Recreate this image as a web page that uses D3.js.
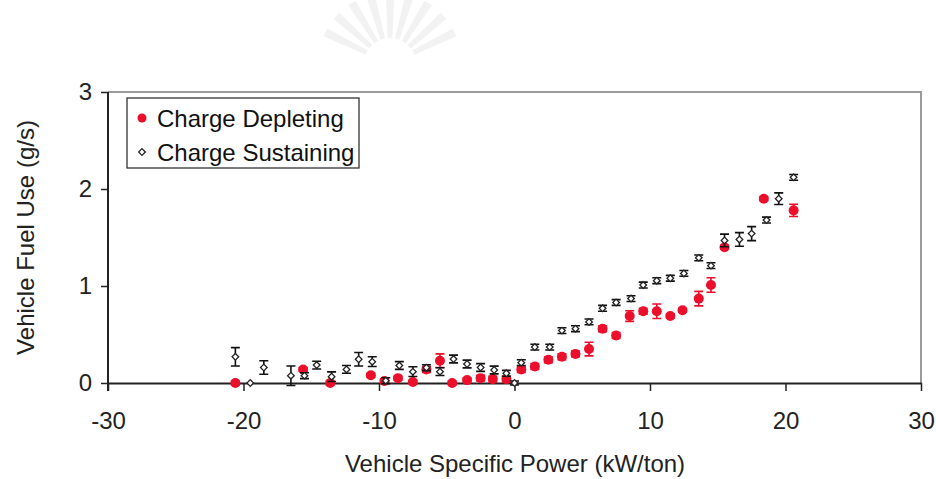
<!DOCTYPE html>
<html>
<head>
<meta charset="utf-8">
<script src="https://cdn.jsdelivr.net/npm/d3@7"></script>
<style>
  html, body { margin: 0; padding: 0; background: #fff; }
  svg { display: block; font-family: "Liberation Sans", Arial, sans-serif; }
</style>
</head>
<body>
<svg id="chart" width="936" height="479"></svg>
<script>
// Charge Depleting: VSP bin centre, mean fuel rate, error half-width
const cdX = [-20.6, -15.6, -13.6, -10.6, -9.6, -8.6, -7.5, -6.5, -5.5, -4.6, -3.5, -2.5, -1.6, -0.6,
             0.5, 1.5, 2.5, 3.5, 4.5, 5.5, 6.5, 7.5, 8.5, 9.5, 10.5, 11.5, 12.4, 13.6, 14.5, 15.5, 18.4, 20.6];
const cdY = [0, 0.14, 0, 0.08, 0.02, 0.05, 0.01, 0.14, 0.23, 0, 0.03, 0.05, 0.04, 0.04,
             0.14, 0.17, 0.24, 0.27, 0.30, 0.35, 0.56, 0.49, 0.69, 0.74, 0.74, 0.69, 0.75, 0.87, 1.01, 1.40, 1.90, 1.78];
const cdErr = [0.02, 0.02, 0.02, 0.02, 0.02, 0.02, 0.02, 0.03, 0.07, 0.02, 0.02, 0.03, 0.03, 0.03,
               0.03, 0.03, 0.03, 0.03, 0.03, 0.07, 0.03, 0.03, 0.055, 0.03, 0.075, 0.02, 0.02, 0.075, 0.075, 0.02, 0.02, 0.063];

// Charge Sustaining
const csX = [-20.6, -19.5, -18.5, -16.5, -15.5, -14.6, -13.5, -12.4, -11.5, -10.5, -9.5, -8.5, -7.5, -6.5,
             -5.5, -4.5, -3.5, -2.5, -1.5, -0.6, 0, 0.5, 1.5, 2.6, 3.5, 4.5, 5.5, 6.5, 7.5, 8.6, 9.5,
             10.5, 11.5, 12.5, 13.6, 14.5, 15.5, 16.6, 17.5, 18.6, 19.5, 20.6];
const csY = [0.27, 0, 0.16, 0.075, 0.075, 0.185, 0.065, 0.14, 0.245, 0.22, 0.024, 0.18, 0.117, 0.158,
             0.117, 0.247, 0.196, 0.16, 0.134, 0.10, 0, 0.21, 0.37, 0.37, 0.54, 0.56, 0.63, 0.77, 0.83, 0.87, 1.01,
             1.055, 1.08, 1.13, 1.29, 1.21, 1.47, 1.48, 1.54, 1.68, 1.90, 2.12];
const csErr = [0.095, 0, 0.07, 0.1, 0.03, 0.04, 0.05, 0.04, 0.07, 0.05, 0.03, 0.04, 0.05, 0.03,
               0.04, 0.04, 0.04, 0.04, 0.04, 0.03, 0.02, 0.03, 0.03, 0.03, 0.03, 0.03, 0.03, 0.03, 0.03, 0.03, 0.03,
               0.03, 0.03, 0.03, 0.03, 0.03, 0.065, 0.07, 0.072, 0.03, 0.06, 0.03];

const xTicks = [-30, -20, -10, 0, 10, 20, 30];
const yTicks = [0, 1, 2, 3];
const seriesNames = ["Charge Depleting", "Charge Sustaining"];

const FS = 24;
const RED = "#ec0f2b";
const svg = d3.select("#chart");
const x = d3.scaleLinear().domain([-30, 30]).range([108, 921]);
const y = d3.scaleLinear().domain([0, 3]).range([383, 92]);

// faint crest in the page header
const crest = svg.append("g").attr("fill", "#f2f2f2");
d3.range(-64, 65, 16).forEach(a => {
  const r = Math.PI / 180 * (a - 90), cx = 390, cy = 64;
  const r1 = 26, r2 = 72, w = 0.09;
  const p = [[cx + r1 * Math.cos(r - w), cy + r1 * Math.sin(r - w)],
             [cx + r2 * Math.cos(r - w / 1.5), cy + r2 * Math.sin(r - w / 1.5)],
             [cx + r2 * Math.cos(r + w / 1.5), cy + r2 * Math.sin(r + w / 1.5)],
             [cx + r1 * Math.cos(r + w), cy + r1 * Math.sin(r + w)]];
  crest.append("path").attr("d", "M" + p.join("L") + "Z");
});

// plot frame: top and right edges in grey
svg.append("path")
  .attr("d", `M${x(-30)},${y(3)}H${x(30)}V${y(0)}`)
  .attr("fill", "none").attr("stroke", "#9a9a9a").attr("stroke-width", 2);

// axes
const xAxis = d3.axisBottom(x).tickValues(xTicks).tickSize(8).tickSizeOuter(0).tickFormat(d3.format("d"));
const gx = svg.append("g").attr("transform", `translate(0,${y(0)})`).call(xAxis);
gx.select(".domain").attr("stroke", "#222").attr("stroke-width", 2);
gx.selectAll(".tick line").attr("stroke", "#222").attr("stroke-width", 1.5);
gx.selectAll(".tick text").attr("font-size", FS).attr("fill", "#222").attr("y", 29)
  .attr("font-family", "Liberation Sans, Arial, sans-serif")
  .text(d => d < 0 ? "-" + Math.abs(d) : d);

const yAxis = d3.axisLeft(y).tickValues(yTicks).tickSize(7).tickSizeOuter(0).tickFormat(d3.format("d"));
const gy = svg.append("g").attr("transform", `translate(${x(-30)},0)`).call(yAxis);
gy.select(".domain").attr("stroke", "#222").attr("stroke-width", 2)
  .attr("d", `M0,${y(3)}V${y(0) + 8}`);
gy.selectAll(".tick line").attr("stroke", "#222").attr("stroke-width", 1.5);
gy.selectAll(".tick text").attr("font-size", FS).attr("fill", "#222").attr("x", -16)
  .attr("font-family", "Liberation Sans, Arial, sans-serif");

// axis titles
svg.append("text").attr("x", 515).attr("y", 472).attr("text-anchor", "middle")
  .attr("font-size", FS).attr("fill", "#222").text("Vehicle Specific Power (kW/ton)");
svg.append("text").attr("transform", `translate(34,${y(1.5)}) rotate(-90)`).attr("text-anchor", "middle")
  .attr("font-size", FS).attr("fill", "#222").text("Vehicle Fuel Use (g/s)");

// error bars
function errorBars(xs, ys, es, color, cap) {
  const g = svg.append("g").attr("stroke", color).attr("stroke-width", 1.6).attr("fill", "none");
  xs.forEach((xv, i) => {
    if (!es[i]) return;
    const cx = x(xv), y0 = y(ys[i] - es[i]), y1 = y(ys[i] + es[i]);
    g.append("path").attr("d",
      `M${cx},${y0}V${y1}M${cx - cap},${y0}H${cx + cap}M${cx - cap},${y1}H${cx + cap}`);
  });
}

const cd = cdX.map((v, i) => ({ x: v, y: cdY[i] }));
const cs = csX.map((v, i) => ({ x: v, y: csY[i] }));

errorBars(cdX, cdY, cdErr, RED, 4.5);
svg.append("g").selectAll("circle").data(cd).join("circle")
  .attr("cx", d => x(d.x)).attr("cy", d => y(d.y)).attr("r", 5)
  .attr("fill", RED);

errorBars(csX, csY, csErr, "#111", 4.5);
// open square turned 45° for the sustaining series
const diamond = d3.symbol().type(d3.symbolSquare).size(22);
svg.append("g").selectAll("path").data(cs).join("path")
  .attr("transform", d => `translate(${x(d.x)},${y(d.y)}) rotate(45)`)
  .attr("d", diamond).attr("fill", "#fff").attr("stroke", "#222").attr("stroke-width", 1.3);

// legend
const lg = svg.append("g");
lg.append("rect").attr("x", 127).attr("y", 98).attr("width", 232).attr("height", 70)
  .attr("fill", "#fff").attr("stroke", "#333").attr("stroke-width", 1.3);
lg.append("circle").attr("cx", 142).attr("cy", 118).attr("r", 4.5).attr("fill", RED);
lg.append("path").attr("transform", "translate(142,152) rotate(45)").attr("d", diamond)
  .attr("fill", "#fff").attr("stroke", "#222").attr("stroke-width", 1.3);
lg.selectAll("text").data(seriesNames).join("text")
  .attr("x", 157).attr("y", (d, i) => 127 + i * 34)
  .attr("font-size", FS).attr("fill", "#111").text(d => d);
</script>
</body>
</html>
